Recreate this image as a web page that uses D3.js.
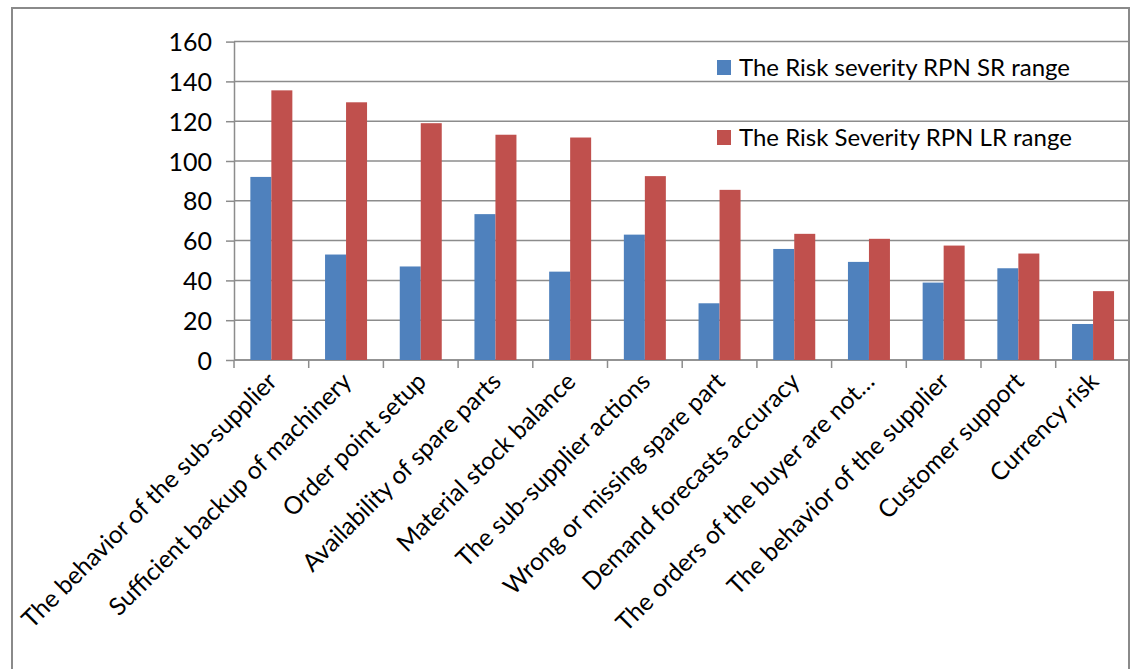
<!DOCTYPE html>
<html>
  <head>
    <meta charset="utf-8">
    <title>Risk severity RPN</title>
    <script src="https://cdn.jsdelivr.net/npm/d3@7"></script>
    <style>
      body { margin: 0; background: #fff; }
      svg { display: block; font-family: Lato, "Open Sans", sans-serif; }
      .grid line { stroke: #8c8c8c; stroke-width: 1.5; }
      .axis path, .axis line { stroke: #8c8c8c; stroke-width: 1.5; }
      .axis text { fill: #000; }
    </style>
  </head>

  <body>
    <svg id="chart" width="1131" height="669"></svg>

    <script>
      // data
      categories = [
        "The behavior of the sub-supplier",
        "Sufficient backup of machinery",
        "Order point setup",
        "Availability of spare parts",
        "Material stock balance",
        "The sub-supplier actions",
        "Wrong or missing spare part",
        "Demand forecasts accuracy",
        "The orders of the buyer are not…",
        "The behavior of the supplier",
        "Customer support",
        "Currency risk"
      ];
      seriesNames = ["The Risk severity RPN SR range", "The Risk Severity RPN LR range"];
      srValues = [92, 53, 47, 73.3, 44.4, 63, 28.5, 55.8, 49.3, 38.9, 46.1, 18.1];
      lrValues = [135.5, 129.5, 119, 113.2, 111.8, 92.4, 85.5, 63.4, 60.9, 57.5, 53.5, 34.6];
      yTicks = [0, 20, 40, 60, 80, 100, 120, 140, 160];
      colours = ["#4f81bd", "#c0504d"];

      svg = d3.select("#chart");
      margin = { top: 41.6, left: 234, bottom: 360 };
      step = 74.7;

      // outer frame
      svg.append("rect")
        .attr("x", 12)
        .attr("y", 8)
        .attr("width", 1117)
        .attr("height", 700)
        .attr("fill", "none")
        .attr("stroke", "#8a8a8a")
        .attr("stroke-width", 2);

      // scales
      x = d3.scaleBand()
        .domain(categories)
        .range([margin.left, margin.left + step * categories.length])
        .paddingInner(1 - 42 / step)
        .paddingOuter((1 - 42 / step) / 2);
      xSeries = d3.scaleBand()
        .domain(seriesNames)
        .range([0, x.bandwidth()]);
      y = d3.scaleLinear()
        .domain([0, 160])
        .range([margin.bottom, margin.top]);
      colour = d3.scaleOrdinal()
        .domain(seriesNames)
        .range(colours);

      // gridlines
      svg.append("g")
        .classed("grid", true)
        .selectAll("line")
        .data(yTicks)
        .enter().append("line")
          .attr("x1", margin.left)
          .attr("x2", 1128)
          .attr("y1", function(d) { return y(d); })
          .attr("y2", function(d) { return y(d); });

      // y axis
      yAxis = svg.append("g")
        .classed("axis", true)
        .attr("transform", "translate(" + margin.left + ",0)")
        .call(d3.axisLeft(y).tickValues(yTicks).tickSize(8).tickPadding(14).tickSizeOuter(0))
        .attr("font-family", null)
        .attr("font-size", null);
      yAxis.selectAll("text")
        .style("font-size", "25px")
        .attr("dy", "0.36em");

      // x axis ticks at category boundaries
      xAxis = svg.append("g")
        .classed("axis", true);
      xAxis.append("line")
        .attr("x1", margin.left)
        .attr("x2", 1128)
        .attr("y1", y(0))
        .attr("y2", y(0));
      xAxis.selectAll(".tick")
        .data(categories)
        .enter().append("line")
          .attr("x1", function(d) { return x(d) - x.step() * x.paddingInner() / 2; })
          .attr("x2", function(d) { return x(d) - x.step() * x.paddingInner() / 2; })
          .attr("y1", y(0))
          .attr("y2", y(0) + 8);
      xAxis.selectAll(".label")
        .data(categories)
        .enter().append("text")
          .attr("transform", function(d) {
            return "translate(" + (x(d) + x.bandwidth() / 2 - 6) + "," + (y(0) + 10) + ") rotate(-45)";
          })
          .attr("text-anchor", "end")
          .attr("dy", "0.75em")
          .style("font-size", "24.5px")
          .text(function(d) { return d; });

      // bars
      groups = svg.append("g")
        .selectAll("g")
        .data(categories)
        .enter().append("g")
          .attr("transform", function(d) { return "translate(" + x(d) + ",0)"; });
      groups.selectAll("rect")
        .data(function(d, i) {
          return [
            { series: seriesNames[0], value: srValues[i] },
            { series: seriesNames[1], value: lrValues[i] }
          ];
        })
        .enter().append("rect")
          .attr("x", function(d) { return xSeries(d.series); })
          .attr("y", function(d) { return y(d.value); })
          .attr("width", xSeries.bandwidth())
          .attr("height", function(d) { return y(0) - y(d.value); })
          .attr("fill", function(d) { return colour(d.series); });

      // legend
      legend = svg.append("g")
        .selectAll("g")
        .data(seriesNames)
        .enter().append("g")
          .attr("transform", function(d, i) { return "translate(717," + (60 + i * 70) + ")"; });
      legend.append("rect")
        .attr("width", 14)
        .attr("height", 15)
        .attr("fill", function(d) { return colour(d); });
      legend.append("text")
        .attr("x", 22)
        .attr("y", 16)
        .style("font-size", "24px")
        .text(function(d) { return d; });
    </script>
  </body>
</html>
